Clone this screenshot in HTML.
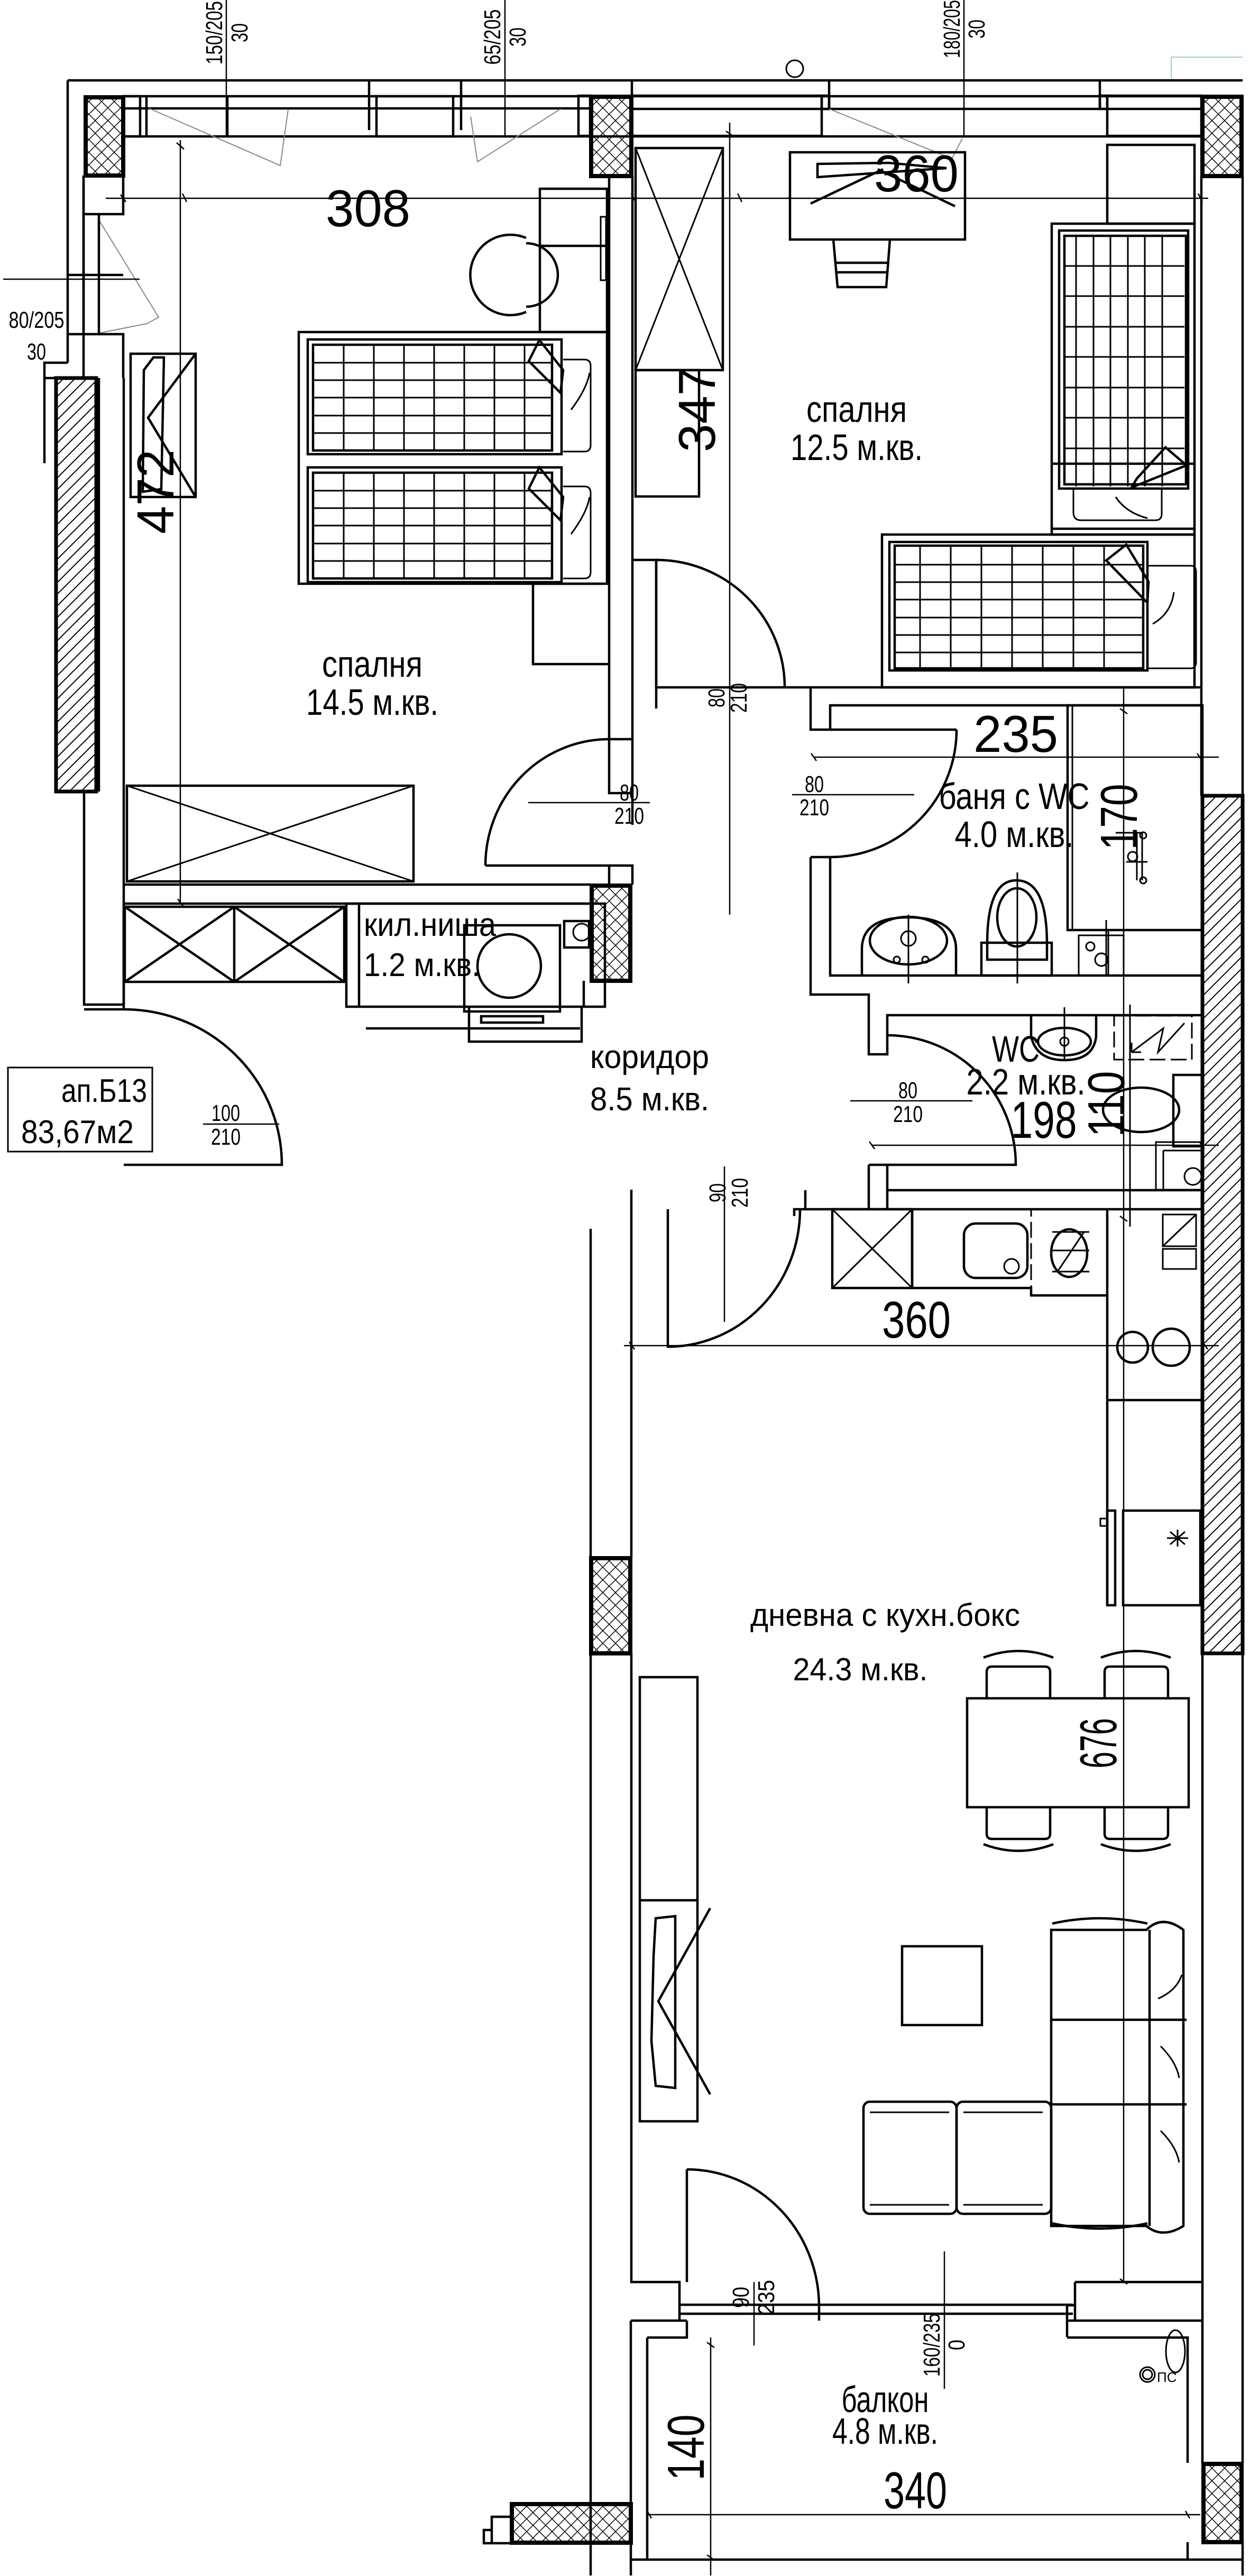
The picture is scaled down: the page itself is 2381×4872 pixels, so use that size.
<!DOCTYPE html>
<html><head><meta charset="utf-8"><style>
html,body{margin:0;padding:0;background:#fff}
svg{display:block}
text{font-family:"Liberation Sans","DejaVu Sans",sans-serif;fill:#000}
.l{fill:none;stroke:#000;stroke-width:4.5}
.n{fill:none;stroke:#000;stroke-width:3}
.g{fill:none;stroke:#888;stroke-width:2}
.k{stroke:#000;stroke-width:8}
</style></head><body>
<svg width="2381" height="4872" viewBox="0 0 2381 4872" xmlns="http://www.w3.org/2000/svg">
<defs>
<pattern id="cx" width="24" height="24" patternUnits="userSpaceOnUse"><path d="M0 0L24 24M24 0L0 24" stroke="#000" stroke-width="1.5"/></pattern>
<pattern id="hh" width="22" height="22" patternUnits="userSpaceOnUse"><path d="M0 22L22 0M-11 11L11 -11M11 33L33 11" stroke="#000" stroke-width="2"/></pattern>
</defs>
<rect width="2381" height="4872" fill="#fff"/>

<!-- top wall / windows -->
<path class="l" d="M128 152H2350M128 152V686M158 332V715M233 182H2272M233 258H2272M233 205H1116M1194 206H2272"/>
<path class="l" d="M277 182V258M430 182V258M698 152V246M872 152V246M1195 152V206M1568 152V206M2080 152V206"/>
<rect class="l" x="712" y="182" width="145" height="76"/>
<rect class="l" x="1194" y="181" width="360" height="76"/>
<rect class="l" x="1094" y="181" width="22" height="76"/>
<rect class="l" x="1554" y="181" width="14" height="25"/>
<rect class="l" x="2080" y="181" width="14" height="25"/>
<rect class="l" x="2094" y="181" width="178" height="76"/>
<rect class="l" x="233" y="182" width="32" height="76"/>
<path class="g" d="M282 205L530 313L545 207M1060 206L903 306L890 220M1568 206L1800 300L1820 262M187 416L300 600L278 612L187 630"/>
<circle class="n" cx="1503" cy="130" r="16"/>
<path d="M2215 108H2350M2215 108V150" stroke="#9cd" stroke-width="2" fill="none"/>
<!-- left wall/window -->
<path class="l" d="M158 332V405h75V332M158 405V632h75V715M128 520H233M187 405V632M128 632H233M128 686H84v190M158 715H84"/>
<!-- hatched walls -->
<rect x="106" y="715" width="76" height="782" fill="url(#hh)" class="k" style="stroke-width:7"/>
<path class="l" d="M187 715V1497M234 715V1900"/>
<rect x="2274" y="1505" width="76" height="1622" fill="url(#hh)" stroke="#000" stroke-width="7"/>
<!-- columns -->
<g stroke="#000" stroke-width="8" fill="url(#cx)">
<rect x="162" y="184" width="71" height="148"/>
<rect x="1118" y="183" width="76" height="150"/>
<rect x="2274" y="183" width="74" height="150"/>
<rect x="1119" y="1675" width="73" height="180"/>
<rect x="1118" y="2947" width="74" height="180"/>
<rect x="968" y="4736" width="225" height="73"/>
<rect x="2276" y="4660" width="72" height="148"/>
</g>
<!-- right outer walls -->
<path class="l" d="M2350 333V1505M2350 3127V4658M2350 4808V4871M2272 333V1505M2274 3127V4660"/>
<!-- bedroom divider -->
<path class="l" d="M1152 333V1398h44M1196 333V1398M1152 1398V1500h44V1398M1196 1500V1560M1152 1637h44V1673M1152 1637V1673"/>
<path class="l" d="M1194 1059H1241V1300H1484M1241 1300V1340M1484 1300H2272M1533 1300V1380H1570V1334H2274"/>
<!-- bedroom1 bottom & niche -->
<path class="l" d="M234 1673H1117M234 1709H1117M159 1497V1900H234V1909H159M234 1709V1900"/>
<rect class="l" x="236" y="1715" width="415" height="142"/>
<path class="l" d="M443 1715V1857M236 1715L443 1857M443 1715L236 1857M443 1715L651 1857M651 1715L443 1857"/>
<rect class="l" x="655" y="1709" width="489" height="195"/>
<path class="l" d="M679 1709V1904M1104 1855V1904M692 1945H1097M887 1904V1970H1100V1904"/>
<rect class="l" x="878" y="1750" width="181" height="163"/>
<circle class="l" cx="963" cy="1827" r="60"/>
<rect class="l" x="910" y="1922" width="117" height="12"/>
<rect class="l" x="1067" y="1742" width="47" height="50"/>
<circle class="n" cx="1100" cy="1763" r="16"/>
<!-- wardrobe bedroom1 -->
<rect class="l" x="240" y="1486" width="542" height="181"/>
<path class="n" d="M240 1486L782 1667M782 1486L240 1667"/>
<!-- bedroom1 furniture -->
<rect class="l" x="565" y="628" width="583" height="476"/>
<rect class="l" x="582" y="642" width="480" height="217"/><rect class="l" x="592" y="652" width="452" height="200"/>
<rect class="l" x="582" y="884" width="480" height="217"/><rect class="l" x="592" y="894" width="452" height="200"/>
<g class="n">
<path d="M650 652V852M707 652V852M764 652V852M821 652V852M878 652V852M935 652V852M992 652V852M592 686H1044M592 719H1044M592 752H1044M592 786H1044M592 819H1044"/>
<path d="M650 894V1094M707 894V1094M764 894V1094M821 894V1094M878 894V1094M935 894V1094M992 894V1094M592 928H1044M592 961H1044M592 994H1044M592 1028H1044M592 1061H1044"/>
</g>
<path class="l" d="M1020 643L1000 683L1060 743L1065 700ZM1020 884L1000 924L1060 984L1065 940Z" fill="#fff"/>
<path class="n" d="M1065 680h40q12 0 12 12v150q0 12 -12 12h-40M1065 920h40q12 0 12 12v150q0 12 -12 12h-40M1080 775q30 -40 35 -70M1080 1010q30 -40 35 -70"/>
<rect class="l" x="1021" y="357" width="127" height="271"/>
<path class="l" d="M1021 465H1148"/>
<rect class="n" x="1136" y="410" width="10" height="120"/>
<path class="l" d="M1008 1104V1256H1152M1008 1104H1140"/>
<path class="l" d="M995 450A76 76 0 1 0 995 590M995 460A58 58 0 1 1 995 580"/>
<rect class="l" x="247" y="669" width="123" height="271"/>
<path class="l" d="M290 676L272 700L270 930L305 925L310 676ZM370 669L280 790L370 940"/>
<!-- bedroom2 furniture -->
<rect class="l" x="1202" y="280" width="165" height="420"/>
<path class="n" d="M1202 280L1367 700M1367 280L1202 700"/>
<rect class="l" x="1202" y="700" width="120" height="239"/>
<rect class="l" x="1494" y="288" width="331" height="165"/>
<path class="l" d="M1546 310L1680 308L1790 318L1546 335ZM1533 385L1670 320M1806 390L1660 320"/>
<path class="l" d="M1576 453L1584 543H1676L1683 453M1580 497H1680M1582 515H1680"/>
<rect class="l" x="2094" y="274" width="165" height="149"/>
<rect class="l" x="1989" y="423" width="270" height="588"/>
<rect class="l" x="2003" y="436" width="244" height="488"/>
<path class="l" d="M1989 877H2259M1989 1000H2259"/>
<g class="n">
<path d="M2035 446V920M2068 446V920M2100 446V920M2133 446V920M2165 446V920M2198 446V920M2013 503H2240M2013 560H2240M2013 618H2240M2013 675H2240M2013 733H2240M2013 790H2240M2013 848H2240"/>
</g>
<rect class="l" x="2013" y="446" width="230" height="470"/>
<path class="l" d="M2204 846L2244 880L2140 922L2150 905Z" fill="#fff"/>
<path class="n" d="M2030 924v45q0 15 15 15h140q12 0 12 -12v-48M2110 940q20 30 60 40"/>
<rect class="l" x="1668" y="1011" width="591" height="289"/>
<rect class="l" x="1682" y="1025" width="488" height="243"/>
<g class="n"><path d="M1740 1032V1264M1798 1032V1264M1856 1032V1264M1914 1032V1264M1972 1032V1264M2030 1032V1264M2088 1032V1264M1692 1068H2160M1692 1101H2160M1692 1134H2160M1692 1168H2160M1692 1201H2160M1692 1234H2160"/></g>
<rect class="l" x="1692" y="1032" width="470" height="232"/>
<path class="l" d="M2130 1030L2092 1060L2170 1140L2172 1100Z" fill="#fff"/>
<path class="n" d="M2172 1070h80q10 0 10 12v170q0 12 -10 12h-80M2180 1180q35 -20 40 -60"/>
<!-- doors -->
<path class="l" d="M1241 1059V1300M1241 1059A243 241 0 0 1 1484 1300"/>
<path class="l" d="M918 1637H1152M918 1637A234 239 0 0 1 1152 1398"/>
<path class="l" d="M1570 1380H1809M1809 1380A239 241 0 0 1 1570 1621"/>
<path class="l" d="M1678 1958A243 245 0 0 1 1921 2203H1678"/>
<path class="l" d="M234 1909A299 294 0 0 1 533 2203H234"/>
<path class="l" d="M1513 2287A250 260 0 0 1 1263 2547V2287"/>
<path class="l" d="M1299 4103V4316M1299 4103A250 260 0 0 1 1549 4360"/>
<!-- bath area walls -->
<path class="l" d="M1533 1621H1570V1845H2274M1533 1621V1881H1643V1994H1678V1920H2274M1643 1994H1678"/>
<path class="l" d="M1643 2203H1678V2251H2274M1643 2203V2287H1678V2251M1523 2287H2274M1523 2251V2287H1502V2300"/>
<!-- bath fixtures -->
<rect class="l" x="2019" y="1334" width="255" height="425"/>
<path class="n" d="M2028 1334V1759M2019 1759H2274M2096 1759V1845"/>
<path class="n" d="M2110 1575H2160M2150 1575V1665M2160 1575V1665M2130 1630H2170"/>
<circle class="n" cx="2142" cy="1620" r="9"/><circle class="n" cx="2162" cy="1580" r="6"/><circle class="n" cx="2162" cy="1665" r="6"/>
<path class="n" d="M2040 1769h85v76h-85zM2092 1845V1740"/>
<circle class="n" cx="2062" cy="1790" r="8"/><circle class="n" cx="2083" cy="1815" r="12"/>
<path class="l" d="M1630 1845V1795q0 -60 88 -60q90 0 90 60V1845"/>
<ellipse class="l" cx="1718" cy="1779" rx="73" ry="45"/>
<circle class="n" cx="1718" cy="1775" r="14"/><circle class="n" cx="1696" cy="1815" r="6"/><circle class="n" cx="1750" cy="1815" r="6"/>
<path class="n" d="M1718 1730V1860"/>
<path class="l" d="M1867 1785q0 -120 55 -120q58 0 58 120v30h-113z"/>
<ellipse class="l" cx="1923" cy="1735" rx="37" ry="55"/>
<rect class="l" x="1856" y="1783" width="133" height="62"/>
<path class="n" d="M1924 1650V1860"/>
<!-- WC fixtures -->
<path class="l" d="M1950 1920v40q10 45 63 45q55 0 60 -45v-40"/>
<ellipse class="l" cx="2013" cy="1970" rx="50" ry="26"/>
<circle class="n" cx="2013" cy="1970" r="8"/>
<path class="n" d="M2013 1905V2005M2137 1900V2320"/>
<rect class="n" x="2107" y="1921" width="147" height="83" stroke-dasharray="30 10"/>
<path class="n" d="M2140 1990L2200 1945L2190 1990L2240 1935M2140 1990V1972M2140 1990H2158"/>
<ellipse class="l" cx="2158" cy="2099" rx="72" ry="42"/>
<rect class="l" x="2219" y="2033" width="55" height="135"/>
<path class="n" d="M2186 2160h88v90h-88zM2200 2176h74M2200 2176V2250"/>
<circle class="n" cx="2256" cy="2225" r="16"/>
<!-- kitchen -->
<rect class="l" x="1574" y="2287" width="151" height="149"/>
<path class="n" d="M1574 2287L1725 2436M1725 2287L1574 2436"/>
<path class="l" d="M1725 2287V2436H1950V2450H2094"/>
<rect class="l" x="1823" y="2314" width="120" height="103" rx="22"/>
<circle class="n" cx="1913" cy="2395" r="14"/>
<rect class="n" x="1950" y="2287" width="144" height="163" stroke-dasharray="30 10"/>
<ellipse class="l" cx="2022" cy="2370" rx="34" ry="45"/>
<path class="n" d="M1990 2330H2060M1990 2365H2060M1990 2405H2060M2000 2405L2050 2330"/>
<path class="l" d="M2094 2287V3036M2094 2648H2274"/>
<rect class="n" x="2199" y="2297" width="63" height="60"/><rect class="n" x="2199" y="2362" width="63" height="38"/>
<path class="n" d="M2199 2357L2262 2297"/>
<circle class="l" cx="2142" cy="2548" r="29"/><circle class="l" cx="2215" cy="2548" r="35"/>
<rect class="l" x="2124" y="2857" width="146" height="179"/>
<rect class="l" x="2094" y="2857" width="15" height="179"/>
<path class="n" d="M2081 2872h13v14h-13zM2207 2909h40M2227 2893v32M2213 2897l28 24M2241 2897l-28 24"/>
<!-- living walls -->
<path class="l" d="M1117 2324V4871M1194 2250V2945M1194 3127V4316H1285V4389M1285 4316V4389"/>
<path class="l" d="M2033 4316H2274M2033 4316V4389M1285 4359H2029M1285 4376H2029M1549 4359V4389M2033 4360H2018V4420"/>
<!-- dining -->
<rect class="l" x="1829" y="3212" width="419" height="206"/>
<path class="l" d="M1866 3212v-50q0 -10 10 -10h100q10 0 10 10v50M2089 3212v-50q0 -10 10 -10h100q10 0 10 10v50M1866 3418v50q0 10 10 10h100q10 0 10 -10v-50M2089 3418v50q0 10 10 10h100q10 0 10 -10v-50"/>
<path class="l" d="M1860 3135q66 -25 132 0M2082 3135q66 -25 132 0M1860 3488q66 25 132 0M2082 3488q66 25 132 0"/>
<!-- tv / living -->
<rect class="l" x="1210" y="3172" width="109" height="840"/>
<path class="l" d="M1210 3594H1319"/>
<path class="l" d="M1240 3628L1277 3624V3949L1240 3945L1232 3860L1236 3700ZM1343 3609L1245 3785L1343 3961"/>
<rect class="l" x="1706" y="3681" width="151" height="149"/>
<path class="l" d="M1988 3650h180q30 -30 70 0v560q-40 25 -70 0H1988Z"/>
<path class="l" d="M2174 3650V4210M1988 3820H2174M2174 3820H2244M1988 3980H2174M2174 3980H2244M1990 3638q90 -20 180 0M1990 4205q90 20 180 0"/>
<path class="n" d="M2190 3780q35 -15 45 -45M2195 3870q30 30 35 60M2195 4030q30 30 35 60"/>
<rect class="l" x="1633" y="3975" width="176" height="212" rx="12"/>
<rect class="l" x="1809" y="3975" width="179" height="212" rx="12"/>
<path class="n" d="M1645 3995h150M1645 4170h150M1822 3995h150M1822 4170h150"/>
<!-- balcony -->
<path class="l" d="M1193 4389H1299M2018 4389H2274M1224 4421H1299V4389M2018 4421H2246V4658M1224 4421V4841M1193 4389V4841H2350M1193 4841V4871M2246 4808V4841"/>
<path class="l" d="M930 4760h38v50h-38zM915 4785h15v25h-15z"/>
<ellipse class="n" cx="2223" cy="4447" rx="18" ry="40"/>
<circle class="n" cx="2170" cy="4491" r="14"/><circle class="n" cx="2170" cy="4491" r="9"/>
<text x="2188" y="4505" font-size="26">ПС</text>
<!-- dimension lines -->
<g class="n" style="stroke-width:2.5">
<path d="M200 375H2285M228 368l10 14M345 366l8 16M1194 366l8 16M1395 366l8 16M2266 366l8 16"/>
<path d="M341 265V1710M334 270l14 12M336 1700l12 16"/>
<path d="M1380 232V1730M1373 248l14 10"/>
<path d="M1539 1432H2305M1534 1425l10 14M2264 1425l10 14M2125 1300V2330M2118 1340l14 10M2118 2300l14 10"/>
<path d="M1649 2166H2305M1644 2159l10 14M2268 2159l10 14M1370 2206V2500"/>
<path d="M1180 2545H2305M1190 2538l10 14M2274 2538l10 14M2125 2330V4316M2118 4310l14 10"/>
<path d="M1224 4756H2270M1224 4749l8 14M2242 4749l8 14M1344 4421V4871M1337 4430l14 10M1337 4832l14 10"/>
<path d="M1426 4316V4436M1786 4258V4518"/>
<path d="M6 528H264M428 0V258M955 0V258M1823 0V257"/>
<path d="M999 1518H1229M1498 1503H1729M1608 2082H1839M384 2126H528"/>
</g>
<!-- apartment label box -->
<rect class="n" x="15" y="2019" width="273" height="159"/>
<!-- texts -->
<g text-anchor="middle">
<text x="696" y="428" font-size="98" textLength="160" lengthAdjust="spacingAndGlyphs">308</text>
<text x="1733" y="362" font-size="98" textLength="160" lengthAdjust="spacingAndGlyphs">360</text>
<text transform="translate(1352,775) rotate(-90)" font-size="98" textLength="160" lengthAdjust="spacingAndGlyphs">347</text>
<text transform="translate(328,930) rotate(-90)" font-size="98" textLength="160" lengthAdjust="spacingAndGlyphs">472</text>
<text x="1620" y="798" font-size="70" textLength="190" lengthAdjust="spacingAndGlyphs">спалня</text>
<text x="1620" y="870" font-size="70" textLength="250" lengthAdjust="spacingAndGlyphs">12.5 м.кв.</text>
<text x="704" y="1280" font-size="70" textLength="190" lengthAdjust="spacingAndGlyphs">спалня</text>
<text x="704" y="1352" font-size="70" textLength="250" lengthAdjust="spacingAndGlyphs">14.5 м.кв.</text>
<text x="1921" y="1422" font-size="98" textLength="160" lengthAdjust="spacingAndGlyphs">235</text>
<text x="1918" y="1530" font-size="70" textLength="285" lengthAdjust="spacingAndGlyphs">баня с WC</text>
<text x="1918" y="1602" font-size="70" textLength="225" lengthAdjust="spacingAndGlyphs">4.0 м.кв.</text>
<text transform="translate(2150,1545) rotate(-90)" font-size="98" textLength="125" lengthAdjust="spacingAndGlyphs">170</text>
<text x="1921" y="2008" font-size="70" textLength="90" lengthAdjust="spacingAndGlyphs">WC</text>
<text x="1940" y="2070" font-size="70" textLength="225" lengthAdjust="spacingAndGlyphs">2.2 м.кв.</text>
<text x="1974" y="2152" font-size="98" textLength="125" lengthAdjust="spacingAndGlyphs">198</text>
<text transform="translate(2126,2088) rotate(-90)" font-size="98" textLength="125" lengthAdjust="spacingAndGlyphs">110</text>
<text x="1733" y="2530" font-size="98" textLength="130" lengthAdjust="spacingAndGlyphs">360</text>
<text x="1674" y="3075" font-size="60" textLength="510" lengthAdjust="spacingAndGlyphs">дневна с кухн.бокс</text>
<text x="1627" y="3178" font-size="60" textLength="255" lengthAdjust="spacingAndGlyphs">24.3 м.кв.</text>
<text transform="translate(2111,3297) rotate(-90)" font-size="98" textLength="95" lengthAdjust="spacingAndGlyphs">676</text>
<text x="1674" y="4562" font-size="70" textLength="165" lengthAdjust="spacingAndGlyphs">балкон</text>
<text x="1674" y="4622" font-size="70" textLength="200" lengthAdjust="spacingAndGlyphs">4.8 м.кв.</text>
<text transform="translate(1331,4629) rotate(-90)" font-size="98" textLength="125" lengthAdjust="spacingAndGlyphs">140</text>
<text x="1731" y="4744" font-size="98" textLength="120" lengthAdjust="spacingAndGlyphs">340</text>
<text x="1190" y="1514" font-size="44" textLength="36" lengthAdjust="spacingAndGlyphs">80</text>
<text x="1190" y="1558" font-size="44" textLength="56" lengthAdjust="spacingAndGlyphs">210</text>
<text x="1540" y="1498" font-size="44" textLength="36" lengthAdjust="spacingAndGlyphs">80</text>
<text x="1540" y="1542" font-size="44" textLength="56" lengthAdjust="spacingAndGlyphs">210</text>
<text x="1717" y="2077" font-size="44" textLength="36" lengthAdjust="spacingAndGlyphs">80</text>
<text x="1717" y="2122" font-size="44" textLength="56" lengthAdjust="spacingAndGlyphs">210</text>
<text x="427" y="2120" font-size="44" textLength="54" lengthAdjust="spacingAndGlyphs">100</text>
<text x="427" y="2165" font-size="44" textLength="56" lengthAdjust="spacingAndGlyphs">210</text>
<text x="69" y="620" font-size="44" textLength="105" lengthAdjust="spacingAndGlyphs">80/205</text>
<text x="69" y="680" font-size="44" textLength="36" lengthAdjust="spacingAndGlyphs">30</text>
<text transform="translate(420,62) rotate(-90)" font-size="44" textLength="120" lengthAdjust="spacingAndGlyphs">150/205</text>
<text transform="translate(468,62) rotate(-90)" font-size="44" textLength="36" lengthAdjust="spacingAndGlyphs">30</text>
<text transform="translate(946,70) rotate(-90)" font-size="44" textLength="105" lengthAdjust="spacingAndGlyphs">65/205</text>
<text transform="translate(994,70) rotate(-90)" font-size="44" textLength="36" lengthAdjust="spacingAndGlyphs">30</text>
<text transform="translate(1815,55) rotate(-90)" font-size="44" textLength="110" lengthAdjust="spacingAndGlyphs">180/205</text>
<text transform="translate(1862,55) rotate(-90)" font-size="44" textLength="36" lengthAdjust="spacingAndGlyphs">30</text>
<text transform="translate(1370,1320) rotate(-90)" font-size="44" textLength="36" lengthAdjust="spacingAndGlyphs">80</text>
<text transform="translate(1412,1320) rotate(-90)" font-size="44" textLength="56" lengthAdjust="spacingAndGlyphs">210</text>
<text transform="translate(1372,2256) rotate(-90)" font-size="44" textLength="36" lengthAdjust="spacingAndGlyphs">90</text>
<text transform="translate(1414,2256) rotate(-90)" font-size="44" textLength="56" lengthAdjust="spacingAndGlyphs">210</text>
<text transform="translate(1416,4345) rotate(-90)" font-size="44" textLength="40" lengthAdjust="spacingAndGlyphs">90</text>
<text transform="translate(1464,4345) rotate(-90)" font-size="44" textLength="66" lengthAdjust="spacingAndGlyphs">235</text>
<text transform="translate(1777,4435) rotate(-90)" font-size="44" textLength="120" lengthAdjust="spacingAndGlyphs">160/235</text>
<text transform="translate(1824,4435) rotate(-90)" font-size="44" textLength="20" lengthAdjust="spacingAndGlyphs">0</text>
</g>
<text x="688" y="1770" font-size="62" textLength="250" lengthAdjust="spacingAndGlyphs">кил.ниша</text>
<text x="688" y="1846" font-size="62" textLength="220" lengthAdjust="spacingAndGlyphs">1.2 м.кв.</text>
<text x="1116" y="2020" font-size="62" textLength="225" lengthAdjust="spacingAndGlyphs">коридор</text>
<text x="1116" y="2100" font-size="62" textLength="225" lengthAdjust="spacingAndGlyphs">8.5 м.кв.</text>
<text x="116" y="2084" font-size="62" textLength="162" lengthAdjust="spacingAndGlyphs">ап.Б13</text>
<text x="40" y="2162" font-size="62" textLength="213" lengthAdjust="spacingAndGlyphs">83,67м2</text>
</svg>
</body></html>
